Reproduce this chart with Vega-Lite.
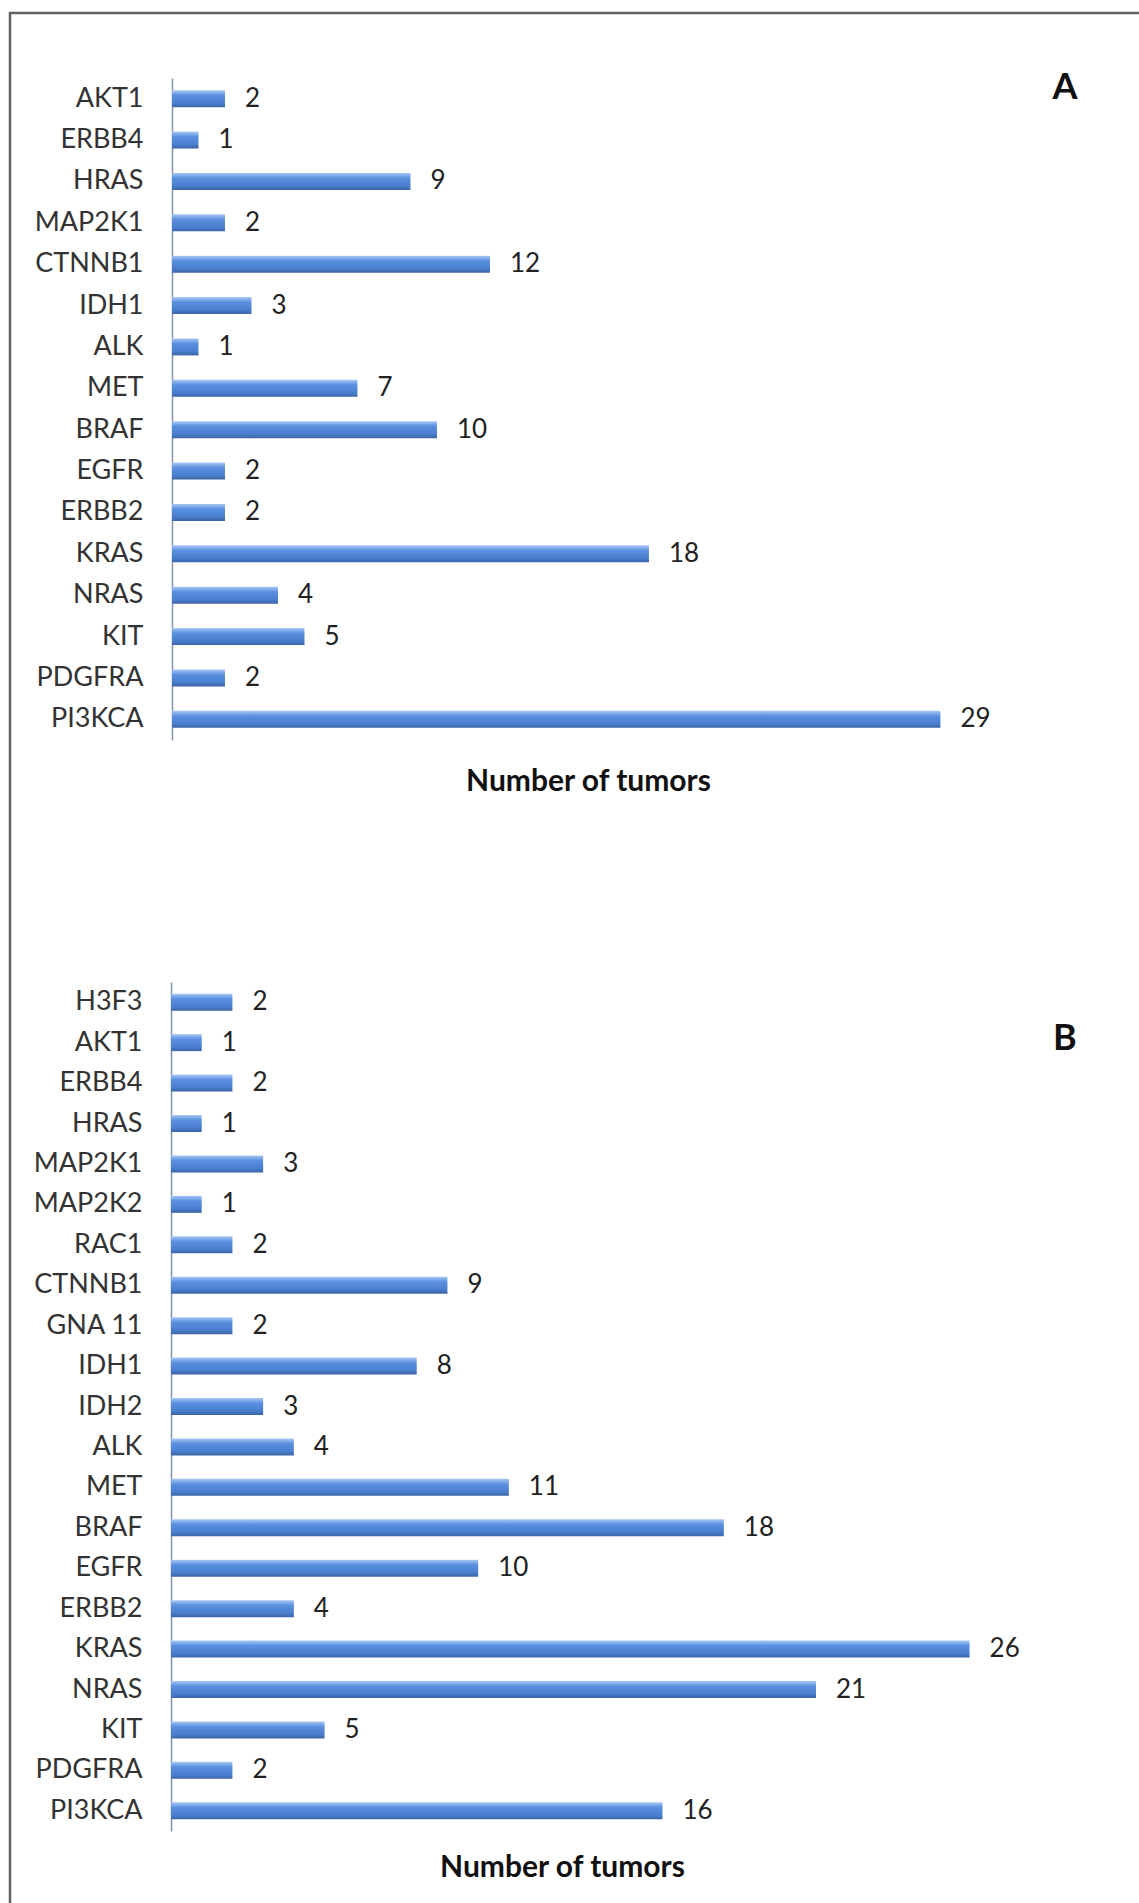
{
  "$schema": "https://vega.github.io/schema/vega-lite/v6.json",
  "width": 1133,
  "height": 1894,
  "padding": {"left": 10, "top": 13, "right": -4, "bottom": -4},
  "autosize": {"type": "none"},
  "background": "white",
  "config": {
    "view": {"stroke": "#606060", "strokeWidth": 2.5},
    "font": "Lato",
    "text": {"font": "Lato"},
    "axisY": {"domainColor": "#8494aa", "domainWidth": 1.5, "ticks": false, "labelPadding": 29, "labelFontSize": 27, "labelColor": "#333333", "labelFont": "Lato", "title": null, "grid": false},
    "axisX": {"labels": false, "ticks": false, "domain": false, "grid": false, "titleFont": "Lato", "titleFontSize": 30, "titleFontWeight": "bold", "titleColor": "#111111"}
  },
  "datasets": {
    "a": [
      {"gene": "AKT1", "n": 2}, {"gene": "ERBB4", "n": 1}, {"gene": "HRAS", "n": 9}, {"gene": "MAP2K1", "n": 2},
      {"gene": "CTNNB1", "n": 12}, {"gene": "IDH1", "n": 3}, {"gene": "ALK", "n": 1}, {"gene": "MET", "n": 7},
      {"gene": "BRAF", "n": 10}, {"gene": "EGFR", "n": 2}, {"gene": "ERBB2", "n": 2}, {"gene": "KRAS", "n": 18},
      {"gene": "NRAS", "n": 4}, {"gene": "KIT", "n": 5}, {"gene": "PDGFRA", "n": 2}, {"gene": "PI3KCA", "n": 29}
    ],
    "b": [
      {"gene": "H3F3", "n": 2}, {"gene": "AKT1", "n": 1}, {"gene": "ERBB4", "n": 2}, {"gene": "HRAS", "n": 1},
      {"gene": "MAP2K1", "n": 3}, {"gene": "MAP2K2", "n": 1}, {"gene": "RAC1", "n": 2}, {"gene": "CTNNB1", "n": 9},
      {"gene": "GNA 11", "n": 2}, {"gene": "IDH1", "n": 8}, {"gene": "IDH2", "n": 3}, {"gene": "ALK", "n": 4},
      {"gene": "MET", "n": 11}, {"gene": "BRAF", "n": 18}, {"gene": "EGFR", "n": 10}, {"gene": "ERBB2", "n": 4},
      {"gene": "KRAS", "n": 26}, {"gene": "NRAS", "n": 21}, {"gene": "KIT", "n": 5}, {"gene": "PDGFRA", "n": 2},
      {"gene": "PI3KCA", "n": 16}
    ]
  },
  "layer": [
    {
      "data": {"name": "a"},
      "encoding": {
        "y": {"field": "gene", "type": "nominal", "sort": null,
              "scale": {"domain": ["AKT1","ERBB4","HRAS","MAP2K1","CTNNB1","IDH1","ALK","MET","BRAF","EGFR","ERBB2","KRAS","NRAS","KIT","PDGFRA","PI3KCA"], "range": [65, 727], "paddingInner": 0.59, "paddingOuter": 0.295},
              "axis": {"orient": "left", "offset": -162}}
      },
      "layer": [
        {
          "mark": {"type": "bar", "color": {"gradient": "linear", "x1": 0, "y1": 0, "x2": 0, "y2": 1,
            "stops": [{"offset": 0, "color": "#a8c8f4"}, {"offset": 0.3, "color": "#5b90e0"}, {"offset": 0.75, "color": "#4a7fd0"}, {"offset": 1, "color": "#3c64a6"}]}},
          "encoding": {
            "x": {"field": "n", "type": "quantitative", "scale": {"domain": [0, 31.4], "range": [162, 994], "nice": false},
                  "axis": {"orient": "bottom", "offset": -1167, "title": "Number of tumors", "titlePadding": 26}}
          }
        },
        {
          "mark": {"type": "text", "align": "left", "baseline": "middle", "dx": 20, "fontSize": 26, "color": "#222222"},
          "encoding": {
            "x": {"field": "n", "type": "quantitative"},
            "text": {"field": "n", "type": "quantitative"}
          }
        },
        {
          "data": {"values": [{"panel": "A"}]},
          "mark": {"type": "text", "align": "center", "baseline": "middle", "dy": -11, "fontSize": 36, "fontWeight": "bold", "color": "#111111"},
          "encoding": {
            "x": {"datum": 33.7, "type": "quantitative"},
            "y": {"datum": "AKT1", "type": "nominal"},
            "text": {"field": "panel", "type": "nominal"}
          }
        }
      ]
    },
    {
      "data": {"name": "b"},
      "encoding": {
        "y": {"field": "gene", "type": "nominal", "sort": null,
              "scale": {"domain": ["H3F3","AKT1","ERBB4","HRAS","MAP2K1","MAP2K2","RAC1","CTNNB1","GNA 11","IDH1","IDH2","ALK","MET","BRAF","EGFR","ERBB2","KRAS","NRAS","KIT","PDGFRA","PI3KCA"], "range": [969, 1818], "paddingInner": 0.58, "paddingOuter": 0.29},
              "axis": {"orient": "left", "offset": -161}}
      },
      "layer": [
        {
          "mark": {"type": "bar", "color": {"gradient": "linear", "x1": 0, "y1": 0, "x2": 0, "y2": 1,
            "stops": [{"offset": 0, "color": "#a8c8f4"}, {"offset": 0.3, "color": "#5b90e0"}, {"offset": 0.75, "color": "#4a7fd0"}, {"offset": 1, "color": "#3c64a6"}]}},
          "encoding": {
            "x": {"field": "n", "type": "quantitative", "scale": {"domain": [0, 28], "range": [161, 1021], "nice": false},
                  "axis": {"orient": "bottom", "offset": -76, "title": "Number of tumors", "titlePadding": 21, "titleX": 552}}
          }
        },
        {
          "mark": {"type": "text", "align": "left", "baseline": "middle", "dx": 20, "fontSize": 26, "color": "#222222"},
          "encoding": {
            "x": {"field": "n", "type": "quantitative"},
            "text": {"field": "n", "type": "quantitative"}
          }
        },
        {
          "data": {"values": [{"panel": "B"}]},
          "mark": {"type": "text", "align": "center", "baseline": "middle", "dy": -4, "fontSize": 36, "fontWeight": "bold", "color": "#111111"},
          "encoding": {
            "x": {"datum": 29.1, "type": "quantitative"},
            "y": {"datum": "AKT1", "type": "nominal"},
            "text": {"field": "panel", "type": "nominal"}
          }
        }
      ]
    }
  ],
  "resolve": {"scale": {"x": "independent", "y": "independent"}, "axis": {"x": "independent", "y": "independent"}}
}
